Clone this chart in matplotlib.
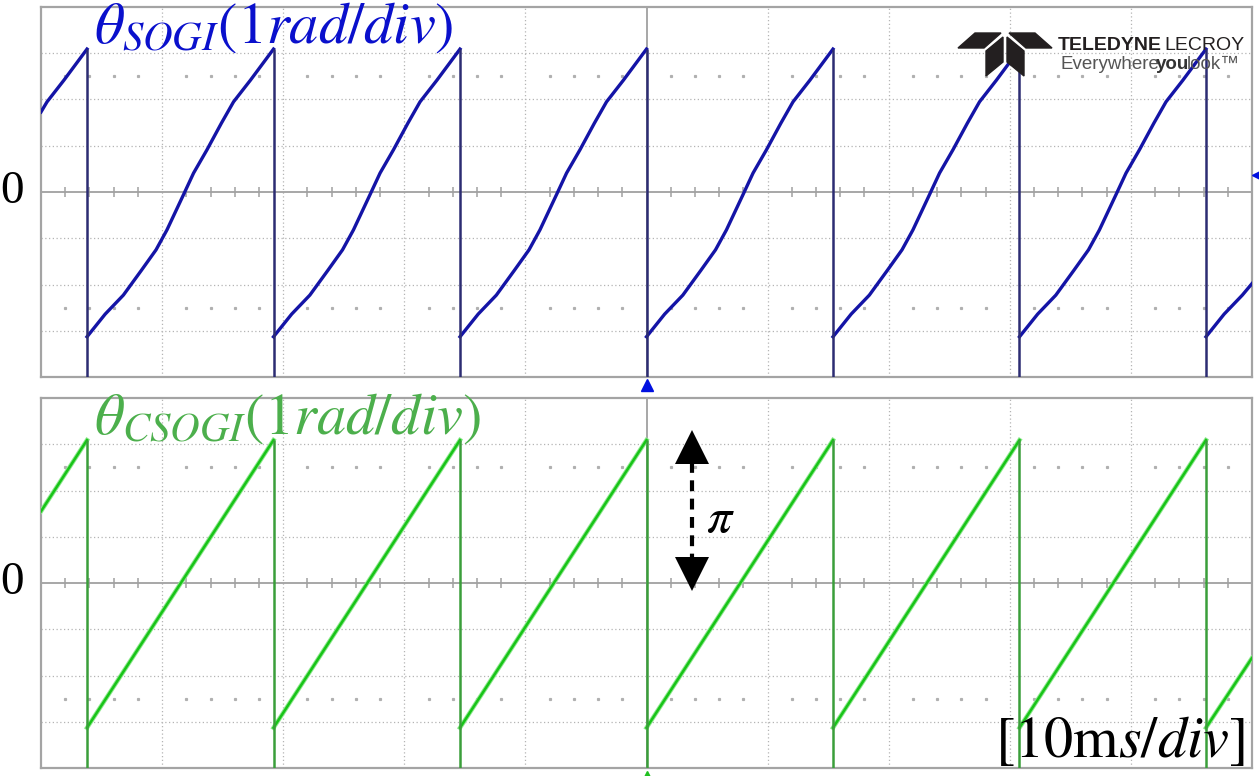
import numpy as np
import matplotlib.pyplot as plt
from matplotlib.patches import Polygon

plt.rcParams['mathtext.fontset'] = 'stix'

# time axis in ms (10 ms/div), theta in rad (1 rad/div)
wrap_times = [3.8, 19.2, 34.6, 50.0, 65.4, 80.8, 96.2]
ramp_peak = 3.09

sogi_t = [0.0, 0.5, 1.9, 3.8,
          3.8, 5.3, 6.8, 8.3, 9.5, 10.4, 11.8, 12.6, 13.7, 14.9, 15.9, 17.3, 19.2,
          19.2, 20.7, 22.2, 23.7, 24.9, 25.8, 27.2, 28.0, 29.1, 30.3, 31.3, 32.7, 34.6,
          34.6, 36.1, 37.6, 39.1, 40.3, 41.2, 42.6, 43.4, 44.5, 45.7, 46.7, 48.1, 50.0,
          50.0, 51.5, 53.0, 54.5, 55.7, 56.6, 58.0, 58.8, 59.9, 61.1, 62.1, 63.5, 65.4,
          65.4, 66.9, 68.4, 69.9, 71.1, 72.0, 73.4, 74.2, 75.3, 76.5, 77.5, 78.9, 80.8,
          80.8, 82.3, 83.8, 85.3, 86.5, 87.4, 88.8, 89.6, 90.7, 91.9, 92.9, 94.3, 96.2,
          96.2, 97.7, 99.2, 100.0]
sogi_theta = [1.73, 1.95, 2.42, 3.09,
              -3.13, -2.64, -2.23, -1.69, -1.25, -0.82, -0.04, 0.41, 0.91, 1.49, 1.95, 2.42, 3.09,
              -3.13, -2.64, -2.23, -1.69, -1.25, -0.82, -0.04, 0.41, 0.91, 1.49, 1.95, 2.42, 3.09,
              -3.13, -2.64, -2.23, -1.69, -1.25, -0.82, -0.04, 0.41, 0.91, 1.49, 1.95, 2.42, 3.09,
              -3.13, -2.64, -2.23, -1.69, -1.25, -0.82, -0.04, 0.41, 0.91, 1.49, 1.95, 2.42, 3.09,
              -3.13, -2.64, -2.23, -1.69, -1.25, -0.82, -0.04, 0.41, 0.91, 1.49, 1.95, 2.42, 3.09,
              -3.13, -2.64, -2.23, -1.69, -1.25, -0.82, -0.04, 0.41, 0.91, 1.49, 1.95, 2.42, 3.09,
              -3.13, -2.64, -2.23, -1.98]

csogi_t = [0.0, 3.8, 3.8, 19.2, 19.2, 34.6, 34.6, 50.0, 50.0, 65.4,
           65.4, 80.8, 80.8, 96.2, 96.2, 100.0]
csogi_theta = [1.55, 3.09, -3.13, 3.09, -3.13, 3.09, -3.13, 3.09, -3.13, 3.09,
               -3.13, 3.09, -3.13, 3.09, -3.13, -1.62]


def split_wraps(t, y):
    # break the line where the phase wraps, the wrap itself is drawn separately
    t = np.asarray(t, float)
    y = np.asarray(y, float)
    idx = np.where(np.diff(y) < -1)[0] + 1
    return np.insert(t, idx, np.nan), np.insert(y, idx, np.nan)


def scope_grid(ax):
    ax.set_xlim(0, 100)
    ax.set_ylim(-4, 4)
    ax.set_xticks([])
    ax.set_yticks([])
    for s in ax.spines.values():
        s.set_color('#a4a4a4')
        s.set_linewidth(1.6)
    for x in range(10, 100, 10):
        if x == 50:
            ax.axvline(x, color='#a0a0a0', lw=1.3, zorder=1)
        else:
            ax.axvline(x, color='#b4b4b4', lw=0.9, ls=(0, (1, 2)), zorder=1)
    for y in range(-3, 4):
        if y == 0:
            ax.axhline(y, color='#a0a0a0', lw=1.3, zorder=1)
        else:
            ax.axhline(y, color='#b4b4b4', lw=0.9, ls=(0, (1, 2)), zorder=1)
    minor = [x for x in np.arange(2, 100, 2) if x % 10 != 0]
    ax.vlines(minor, -0.1, 0.1, color='#a0a0a0', lw=1.1, zorder=1)
    for yy in (2.5, -2.5):
        ax.plot(minor, [yy] * len(minor), ls='none', marker='s', ms=1.3,
                color='#b0b0b0', zorder=1)


fig = plt.figure(figsize=(12.59, 7.76), dpi=100)
ax1 = fig.add_axes([41 / 1259, 1 - 377 / 776, 1211 / 1259, 370 / 776])
ax2 = fig.add_axes([41 / 1259, 1 - 768 / 776, 1211 / 1259, 370 / 776])
scope_grid(ax1)
scope_grid(ax2)

# top trace: SOGI phase
t, y = split_wraps(sogi_t, sogi_theta)
ax1.plot(t, y, color='#1414a6', lw=2.4, zorder=3)
ax1.vlines(wrap_times, -4, ramp_peak, color='#2c2c72', lw=1.8, zorder=3)

# bottom trace: CSOGI phase
t, y = split_wraps(csogi_t, csogi_theta)
ax2.plot(t, y, color='#8fe88f', lw=3.2, zorder=3)
ax2.plot(t, y, color='#18c418', lw=1.8, zorder=3)
ax2.vlines(wrap_times, -4, ramp_peak, color='#3a9e3a', lw=1.8, zorder=3)

# labels
ax1.text(4.4, 3.22, r'$\theta_{SOGI}(1rad/div)$', color='#0a10cc', fontsize=42,
         va='baseline', ha='left', zorder=5)
ax2.text(4.4, 3.24, r'$\theta_{CSOGI}(1rad/div)$', color='#4caf4c', fontsize=42,
         va='baseline', ha='left', zorder=5)
for ax in (ax1, ax2):
    ax.text(-2.4, 0, '0', fontsize=34, family='Liberation Serif', ha='center',
            va='center', clip_on=False)
ax2.text(99.4, -3.76, r'$[10\mathrm{m}s/div]$', fontsize=42, ha='right',
         va='baseline', zorder=5)

# pi arrow
ax2.plot([53.75, 53.75], [2.62, 0.5], color='black', lw=3, ls=(0, (2.6, 1.8)), zorder=4)
ax2.plot(53.75, 2.93, marker='^', ms=24, color='black', zorder=4, markeredgewidth=0)
ax2.plot(53.75, 0.19, marker='v', ms=24, color='black', zorder=4, markeredgewidth=0)
ax2.text(56.1, 1.4, r'$\pi$', fontsize=36, ha='center', va='center', zorder=5)

# trigger and offset markers
ax1.plot(50, -4.18, marker='^', ms=9, color='#0010e0', clip_on=False, zorder=6)
ax2.plot(50, -4.2, marker='^', ms=9, color='#20c020', clip_on=False, zorder=6)
ax1.plot(100.3, 0.37, marker='<', ms=6, color='#0010e0', clip_on=False, zorder=6)


# scope maker logo (figure pixel coordinates)
def px(points):
    return [(x / 1259, 1 - y / 776) for x, y in points]


logo_shapes = [
    [(958, 48), (975, 33), (1001, 33), (984, 48)],
    [(1009, 33), (1035, 33), (1052, 48), (1026, 48)],
    [(986, 51), (1003, 37), (1003, 62), (986, 76)],
    [(1007, 37), (1024, 51), (1024, 76), (1007, 62)],
]
for shape in logo_shapes:
    fig.patches.append(Polygon(px(shape), closed=True, color='#231f20',
                               transform=fig.transFigure, zorder=10))
fig.text(1058 / 1259, 1 - 50 / 776, 'TELEDYNE', fontsize=14, fontweight='bold',
         family=['Liberation Sans Narrow', 'Liberation Sans'], color='#231f20',
         va='baseline', zorder=10)
fig.text(1245 / 1259, 1 - 50 / 776, 'LECROY', fontsize=14,
         family=['Liberation Sans Narrow', 'Liberation Sans'], color='#231f20',
         va='baseline', ha='right', zorder=10)
fig.text(1060 / 1259, 1 - 69 / 776, 'Everywhere', fontsize=13.5,
         family='Liberation Sans', color='#555555', va='baseline', zorder=10)
fig.text(1156 / 1259, 1 - 69 / 776, 'you', fontsize=13.5, fontweight='bold',
         family='Liberation Sans', color='#333333', va='baseline', zorder=10)
fig.text(1187 / 1259, 1 - 69 / 776, 'look\u2122', fontsize=13.5,
         family='Liberation Sans', color='#555555', va='baseline', zorder=10)

fig.savefig('out.png', dpi=100)
